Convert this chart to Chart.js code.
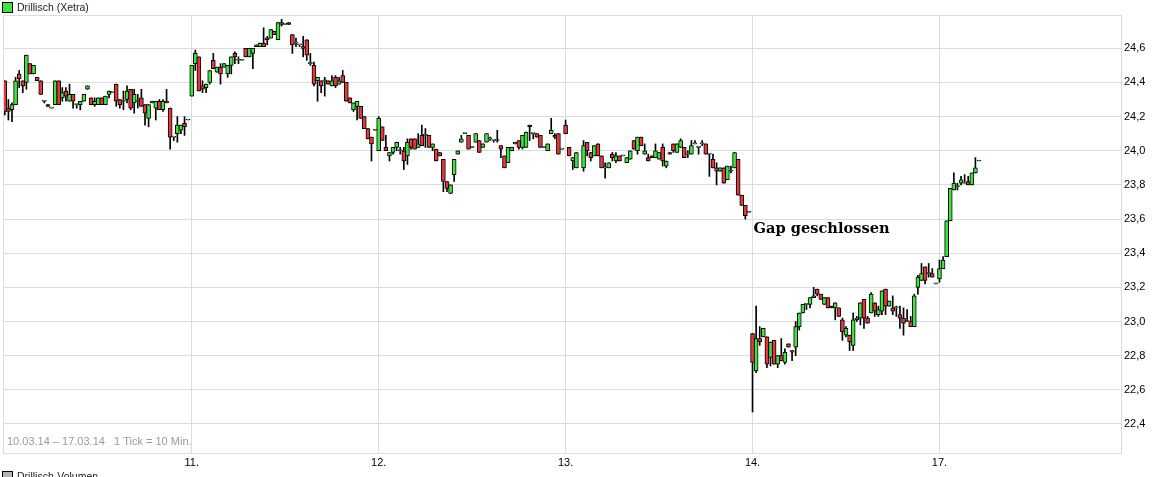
<!DOCTYPE html>
<html>
<head>
<meta charset="utf-8">
<script src="https://cdn.jsdelivr.net/npm/chart.js@4.4.1/dist/chart.umd.min.js"></script>
<style>
  body { margin: 0; background: #fff; }
</style>
</head>
<body>
<canvas id="myChart" width="1165" height="477"></canvas>
<script>
/* Drillisch (Xetra), 10-min candles, 10.03.14 - 17.03.14 */
const perDay = 52;
const dayLabels = ['11.', '12.', '13.', '14.', '17.'];
const yTicks = [22.4, 22.6, 22.8, 23.0, 23.2, 23.4, 23.6, 23.8, 24.0, 24.2, 24.4, 24.6];

const opens = [
  // 10.
  24.41,24.25,24.24,24.27,24.45,24.41,24.40,24.51,24.45,24.43,24.41,24.29,24.27,24.25,24.27,24.41,24.31,24.35,24.29,24.33,
  24.27,24.27,24.29,24.36,24.31,24.27,24.27,24.31,24.27,24.33,24.34,24.39,24.30,24.29,24.30,24.36,24.28,24.29,24.31,24.27,
  24.19,24.28,24.25,24.29,24.24,24.29,24.25,24.08,24.10,24.12,24.16,24.18,
  // 11.
  24.32,24.51,24.55,24.38,24.37,24.40,24.53,24.46,24.49,24.49,24.45,24.50,24.57,24.53,24.53,24.60,24.55,24.57,24.61,24.61,
  24.63,24.66,24.66,24.70,24.65,24.74,24.74,24.75,24.68,24.63,24.62,24.61,24.65,24.51,24.50,24.41,24.41,24.41,24.41,24.38,
  24.43,24.39,24.44,24.40,24.31,24.24,24.26,24.26,24.20,24.13,24.08,24.12,
  // 12.
  24.00,24.14,24.02,23.97,23.99,24.02,24.00,24.00,23.97,24.07,24.07,24.02,24.09,24.09,24.09,24.02,24.01,23.99,23.95,23.82,
  23.75,23.86,23.98,24.05,24.10,24.09,24.02,24.05,24.06,24.02,24.05,24.07,24.06,24.06,24.03,23.97,23.93,24.00,24.04,24.06,
  24.02,24.02,24.15,24.10,24.10,24.09,24.02,24.00,24.10,24.09,24.10,24.01,
  // 13.
  24.15,24.02,23.94,23.90,null,23.90,24.05,23.99,23.97,24.04,23.97,23.90,23.90,23.98,23.94,23.97,23.97,23.93,23.95,24.06,
  24.00,24.08,23.98,23.96,23.97,23.96,23.95,24.02,23.91,23.99,24.04,23.99,24.02,24.02,23.98,23.98,24.04,24.02,24.04,24.04,
  23.98,23.95,23.90,23.88,23.90,23.83,23.88,23.90,23.95,23.74,23.68,23.64,
  // 14.
  22.93,22.71,22.90,22.91,22.91,22.79,22.89,22.75,22.80,22.76,22.87,22.83,22.85,22.97,23.05,23.10,23.10,23.14,23.19,23.16,
  23.10,23.14,23.09,23.08,23.08,23.01,22.92,22.92,22.86,23.01,23.02,23.13,23.02,23.05,23.11,23.04,23.06,23.19,23.09,23.08,
  23.08,23.04,23.02,23.00,23.00,22.97,23.20,23.24,23.32,23.28,23.28,23.22,
  // 17.
  23.25,23.31,23.38,23.59,23.77,23.79,23.81,23.81,23.82,23.80,23.87,23.94
];
const highs = [
  24.41,24.30,24.28,24.43,24.47,24.41,24.56,24.51,24.50,24.43,24.41,24.29,24.27,24.25,24.41,24.41,24.37,24.37,24.39,24.33,
  24.27,24.29,24.33,24.38,24.31,24.31,24.31,24.31,24.32,24.35,24.34,24.39,24.30,24.35,24.38,24.36,24.36,24.33,24.36,24.27,
  24.27,24.29,24.29,24.30,24.30,24.36,24.25,24.08,24.20,24.15,24.20,24.18,
  24.50,24.59,24.55,24.41,24.39,24.47,24.57,24.49,24.51,24.51,24.50,24.55,24.58,24.55,24.53,24.60,24.60,24.60,24.62,24.63,
  24.72,24.67,24.71,24.70,24.75,24.77,24.74,24.75,24.68,24.66,24.62,24.67,24.65,24.57,24.52,24.43,24.41,24.43,24.41,24.44,
  24.44,24.43,24.47,24.40,24.31,24.28,24.29,24.26,24.20,24.13,24.08,24.12,
  24.20,24.14,24.09,23.99,24.02,24.05,24.02,24.02,24.07,24.07,24.07,24.10,24.15,24.13,24.09,24.04,24.01,23.99,23.95,23.82,
  23.80,23.95,24.00,24.09,24.10,24.09,24.02,24.10,24.06,24.04,24.10,24.08,24.06,24.12,24.03,23.97,24.02,24.02,24.05,24.06,
  24.09,24.11,24.15,24.10,24.10,24.09,24.02,24.04,24.19,24.10,24.10,24.01,
  24.18,24.02,23.96,23.99,null,24.06,24.05,23.99,24.03,24.04,23.97,23.93,23.93,23.99,23.99,23.97,23.97,23.96,24.00,24.06,
  24.08,24.08,24.04,23.98,23.97,24.04,23.99,24.04,23.94,23.99,24.04,24.04,24.07,24.02,24.00,24.06,24.06,24.02,24.06,24.04,
  23.98,23.98,23.93,23.90,23.90,23.91,23.91,23.99,23.95,23.74,23.68,23.64,
  22.93,23.09,22.97,22.96,22.91,22.88,22.89,22.80,22.90,22.84,22.87,22.83,23.00,23.05,23.10,23.10,23.14,23.20,23.19,23.16,
  23.14,23.14,23.09,23.11,23.08,23.02,22.97,22.92,23.05,23.03,23.11,23.13,23.03,23.17,23.11,23.09,23.18,23.19,23.12,23.15,
  23.09,23.09,23.08,23.07,23.03,23.16,23.27,23.34,23.32,23.34,23.31,23.22,
  23.36,23.38,23.59,23.78,23.87,23.81,23.85,23.86,23.85,23.87,23.96,23.94
];
const lows = [
  24.21,24.18,24.17,24.27,24.37,24.34,24.36,24.45,24.45,24.41,24.33,24.28,24.26,24.25,24.27,24.27,24.29,24.29,24.29,24.25,
  24.25,24.24,24.29,24.36,24.27,24.26,24.27,24.27,24.27,24.31,24.34,24.26,24.25,24.24,24.28,24.24,24.22,24.25,24.26,24.15,
  24.14,24.28,24.18,24.24,24.23,24.28,24.01,24.06,24.05,24.10,24.09,24.18,
  24.32,24.47,24.35,24.34,24.34,24.39,24.48,24.46,24.39,24.49,24.43,24.45,24.51,24.51,24.53,24.55,24.55,24.48,24.61,24.61,
  24.61,24.62,24.66,24.68,24.65,24.73,24.74,24.74,24.57,24.61,24.61,24.55,24.53,24.50,24.38,24.29,24.34,24.32,24.39,24.38,
  24.37,24.39,24.40,24.29,24.28,24.23,24.18,24.19,24.13,24.07,23.94,24.12,
  24.00,24.06,24.00,23.94,23.98,24.00,23.98,23.89,23.92,24.01,24.01,24.02,24.03,24.02,24.02,24.00,23.94,23.97,23.76,23.76,
  23.75,23.82,23.98,24.05,24.10,24.01,24.02,24.05,23.99,24.02,24.05,24.06,24.05,24.05,23.96,23.90,23.93,24.00,24.04,24.01,
  24.01,24.02,24.06,24.07,24.08,24.02,24.02,24.00,24.10,24.07,23.98,24.01,
  24.10,23.97,23.89,23.90,null,23.88,23.97,23.94,23.97,23.97,23.90,23.84,23.90,23.94,23.93,23.94,23.97,23.93,23.95,24.01,
  23.98,24.03,23.98,23.94,23.96,23.96,23.95,23.91,23.90,23.98,23.99,23.99,24.02,23.96,23.96,23.98,24.04,23.98,24.03,23.98,
  23.85,23.90,23.80,23.88,23.81,23.83,23.87,23.90,23.74,23.68,23.60,23.64,
  22.47,22.70,22.86,22.91,22.73,22.74,22.75,22.73,22.77,22.75,22.85,22.77,22.80,22.95,23.05,23.07,23.08,23.14,23.15,23.13,
  23.10,23.08,23.08,23.01,23.03,22.89,22.91,22.83,22.83,23.00,22.98,22.96,22.99,23.05,23.03,23.03,23.04,23.04,23.09,23.04,
  23.03,22.96,22.92,23.00,22.97,22.97,23.16,23.24,23.22,23.26,23.26,23.22,
  23.23,23.31,23.38,23.59,23.77,23.77,23.80,23.81,23.80,23.80,23.87,23.94
];
const closes = [
  24.23,24.23,24.27,24.41,24.42,24.38,24.56,24.45,24.50,24.41,24.33,24.29,24.26,24.25,24.41,24.27,24.34,24.32,24.33,24.29,
  24.27,24.29,24.33,24.38,24.27,24.29,24.31,24.27,24.32,24.35,24.34,24.29,24.27,24.29,24.35,24.25,24.33,24.29,24.26,24.22,
  24.27,24.29,24.29,24.24,24.29,24.28,24.08,24.08,24.15,24.15,24.14,24.18,
  24.50,24.57,24.35,24.36,24.39,24.47,24.48,24.49,24.45,24.51,24.50,24.55,24.55,24.53,24.53,24.55,24.60,24.60,24.62,24.63,
  24.61,24.65,24.71,24.68,24.75,24.75,24.74,24.74,24.62,24.63,24.62,24.60,24.56,24.51,24.39,24.43,24.38,24.41,24.39,24.41,
  24.38,24.41,24.40,24.29,24.28,24.28,24.29,24.19,24.13,24.07,24.04,24.12,
  24.19,24.06,24.00,23.99,24.02,24.05,24.00,23.94,24.05,24.02,24.01,24.04,24.03,24.09,24.02,24.04,23.94,23.97,23.82,23.78,
  23.80,23.95,24.00,24.07,24.10,24.01,24.02,24.10,23.99,24.04,24.10,24.07,24.06,24.06,24.01,23.90,24.02,24.02,24.05,24.02,
  24.09,24.11,24.14,24.10,24.08,24.02,24.02,24.04,24.12,24.08,23.98,24.01,
  24.10,23.97,23.96,23.99,null,24.03,24.00,23.96,24.03,23.97,23.90,23.90,23.93,23.96,23.97,23.94,23.97,23.96,24.00,24.01,
  24.08,24.03,24.00,23.94,23.96,24.00,23.99,23.94,23.94,23.98,24.00,24.04,24.06,23.96,23.98,24.03,24.04,24.02,24.04,23.98,
  23.98,23.90,23.88,23.90,23.81,23.91,23.88,23.99,23.74,23.68,23.62,23.64,
  22.76,22.90,22.88,22.96,22.75,22.88,22.75,22.80,22.77,22.82,22.85,22.82,22.97,23.05,23.10,23.10,23.14,23.15,23.16,23.13,
  23.14,23.08,23.08,23.11,23.03,22.94,22.96,22.88,23.01,23.02,23.11,23.02,22.99,23.16,23.06,23.07,23.18,23.09,23.12,23.06,
  23.08,23.02,22.99,23.00,22.97,23.15,23.26,23.28,23.24,23.28,23.26,23.22,
  23.31,23.36,23.59,23.78,23.81,23.79,23.83,23.81,23.80,23.87,23.90,23.94
];

const green = '#3ce63c';
const red = '#e6373c';
const gridColor = '#dcdcdc';

// one bar for the wick (low..high), one for the body (open..close)
var wicks = [], bodies = [], bodyColors = [];
for (let i = 0; i < opens.length; i++) {
  if (opens[i] === null) continue;
  wicks.push({ x: i, y: [lows[i], highs[i]] });
  bodies.push({ x: i, y: [opens[i], closes[i]] });
  bodyColors.push(closes[i] >= opens[i] ? green : red);
}

/* texts and frame round the plot */
const extras = {
  id: 'extras',
  afterDraw(chart) {
    const ctx = chart.ctx, a = chart.chartArea;
    const xs = chart.scales.x, ys = chart.scales.y;
    ctx.save();
    ctx.strokeStyle = gridColor;
    ctx.lineWidth = 1;
    ctx.beginPath();
    ctx.moveTo(a.left + 0.5, a.bottom);
    ctx.lineTo(a.left + 0.5, a.top + 0.5);
    ctx.lineTo(a.right, a.top + 0.5);
    ctx.stroke();

    // legend on top
    ctx.fillStyle = green;
    ctx.fillRect(2.5, 2.5, 10, 10);
    ctx.strokeStyle = '#000';
    ctx.strokeRect(2.5, 2.5, 10, 10);
    ctx.fillStyle = '#222';
    ctx.font = '10.5px "Liberation Sans", Arial, sans-serif';
    ctx.textBaseline = 'middle';
    ctx.textAlign = 'left';
    ctx.fillText('Drillisch (Xetra)', 17, 8);

    // period note
    ctx.fillStyle = '#9a9a9a';
    ctx.font = '11px "Liberation Sans", Arial, sans-serif';
    ctx.fillText('10.03.14 \u2013 17.03.14   1 Tick = 10 Min.', 7, 442);

    // volume legend (cut off at the bottom)
    ctx.fillStyle = '#b4b4b4';
    ctx.fillRect(2.5, 471.5, 10, 10);
    ctx.strokeStyle = '#000';
    ctx.strokeRect(2.5, 471.5, 10, 10);
    ctx.fillStyle = '#222';
    ctx.font = '10.5px "Liberation Sans", Arial, sans-serif';
    ctx.fillText('Drillisch-Volumen', 17, 477);

    // annotation
    ctx.fillStyle = '#000';
    ctx.font = 'bold 14.6px "DejaVu Serif", serif';
    ctx.textBaseline = 'alphabetic';
    ctx.fillText('Gap geschlossen', xs.getPixelForValue(4 * perDay) + 1, ys.getPixelForValue(23.52));
    ctx.restore();
  }
};

var ctx = document.getElementById('myChart').getContext('2d');
var chart = new Chart(ctx, {
  type: 'bar',
  data: {
    datasets: [{
      data: bodies,
      backgroundColor: bodyColors,
      borderColor: '#000',
      borderWidth: 1,
      borderSkipped: false,
      barThickness: 4,
      minBarLength: 1,
      grouped: false,
      order: 0
    }, {
      data: wicks,
      backgroundColor: '#000',
      borderWidth: 0,
      barThickness: 1,
      grouped: false,
      order: 1
    }]
  },
  options: {
    responsive: false,
    animation: false,
    devicePixelRatio: 1,
    layout: { padding: { left: 3, top: 15, right: 0, bottom: 0 } },
    plugins: { legend: { display: false }, tooltip: { enabled: false } },
    scales: {
      x: {
        type: 'linear',
        min: -0.5,
        max: 310.5,
        offset: false,
        grid: { color: gridColor, offset: false, drawTicks: false },
        border: { color: gridColor },
        afterBuildTicks: function(s) {
          s.ticks = dayLabels.map(function(l, i) { return { value: (i + 1) * perDay }; });
        },
        ticks: {
          autoSkip: false, maxRotation: 0, padding: 3, color: '#000',
          font: { size: 11, family: '"Liberation Sans", Arial, sans-serif' },
          callback: function(v, i) { return dayLabels[i]; }
        },
        afterFit: function(s) { s.height = 24; }
      },
      y: {
        position: 'right',
        min: 22.23,
        max: 24.795,
        grid: { color: gridColor, drawTicks: false },
        border: { color: gridColor },
        afterBuildTicks: function(s) {
          s.ticks = yTicks.map(function(v) { return { value: v }; });
        },
        ticks: {
          padding: 3, color: '#000',
          font: { size: 11, family: '"Liberation Sans", Arial, sans-serif' },
          callback: function(v) { return v.toFixed(1).replace('.', ','); }
        },
        afterFit: function(s) { s.width = 44; }
      }
    }
  },
  plugins: [extras]
});
</script>
</body>
</html>
